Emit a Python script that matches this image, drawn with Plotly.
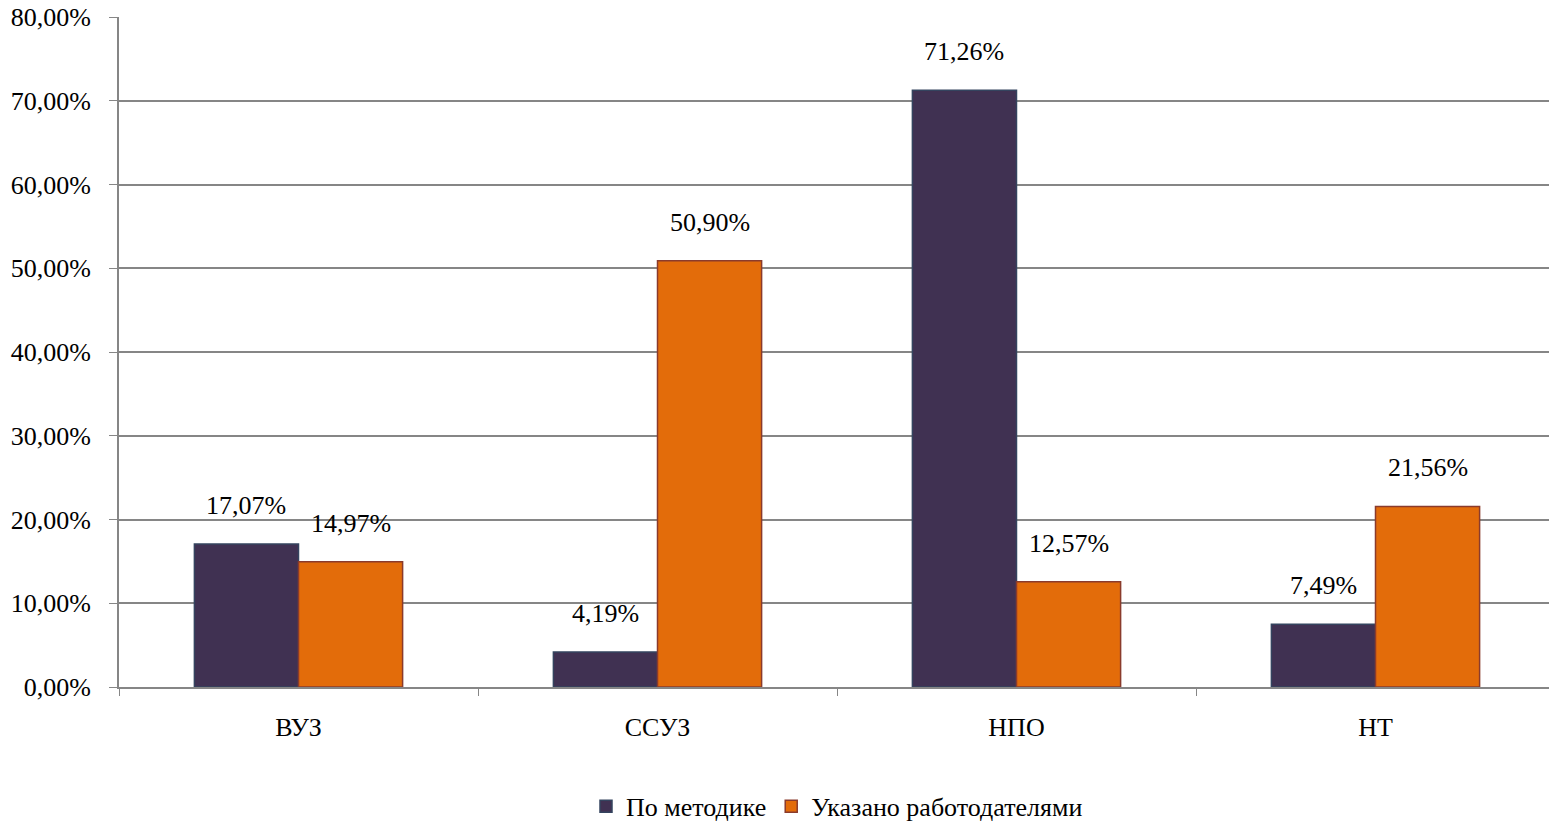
import plotly.graph_objects as go

categories = ["ВУЗ", "ССУЗ", "НПО", "НТ"]
method_values = [17.07, 4.19, 71.26, 7.49]
employer_values = [14.97, 50.90, 12.57, 21.56]
y_ticks = [0, 10, 20, 30, 40, 50, 60, 70, 80]


def pct_text(v):
    return f"{v:.2f}%".replace(".", ",")


BAR_GAP = 0.42
series = [
    ("По методике", method_values, "#403152", "#34445f"),
    ("Указано работодателями", employer_values, "#E36C0A", "#8a3b2c"),
]

fig = go.Figure()
for name, vals, color, edge in series:
    fig.add_trace(go.Bar(
        name=name,
        x=categories,
        y=vals,
        marker=dict(color=color, line=dict(color=edge, width=1.5)),
    ))

# value labels above each bar, placed at the bar centres of the grouped layout
bar_w = (1 - BAR_GAP) / len(series)
for s, (name, vals, color, edge) in enumerate(series):
    offset = -(1 - BAR_GAP) / 2 + bar_w * (s + 0.5)
    for i, v in enumerate(vals):
        fig.add_annotation(
            x=i + offset, y=v, xref="x", yref="y",
            text=pct_text(v), showarrow=False,
            yanchor="bottom", yshift=22,
            font=dict(size=26, color="#000000"),
        )

# the original chart runs slightly past the right edge of the picture
fig.update_layout(
    width=1555,
    height=821,
    barmode="group",
    bargap=BAR_GAP,
    bargroupgap=0,
    plot_bgcolor="white",
    paper_bgcolor="white",
    font=dict(family="Liberation Serif, Times New Roman, serif", size=26, color="#000000"),
    margin=dict(l=119, r=0, t=17, b=134, autoexpand=False),
    showlegend=True,
    legend=dict(
        orientation="h",
        x=0.5,
        xanchor="center",
        y=-0.178,
        yanchor="middle",
        font=dict(size=26),
        itemwidth=30,
    ),
    xaxis=dict(
        showline=True,
        linecolor="#868686",
        linewidth=2,
        ticks="outside",
        tickson="boundaries",
        tickcolor="#868686",
        ticklen=7,
        tickfont=dict(size=26),
        ticklabelstandoff=16,
        showgrid=False,
        automargin=False,
    ),
    yaxis=dict(
        range=[0, 80],
        tickvals=y_ticks,
        ticktext=[pct_text(v) for v in y_ticks],
        showline=True,
        linecolor="#868686",
        linewidth=2,
        ticks="outside",
        tickcolor="#868686",
        ticklen=8,
        ticklabelstandoff=13,
        ticklabeloverflow="allow",
        showgrid=True,
        gridcolor="#868686",
        gridwidth=1.5,
        zeroline=False,
        tickfont=dict(size=26),
        automargin=False,
    ),
)

# drop the default body margin and scrollbars so the figure fills the window
fig.write_html(
    "out.html",
    config={"displayModeBar": False},
    post_script="document.body.style.margin = '0'; document.body.style.overflow = 'hidden';",
)
